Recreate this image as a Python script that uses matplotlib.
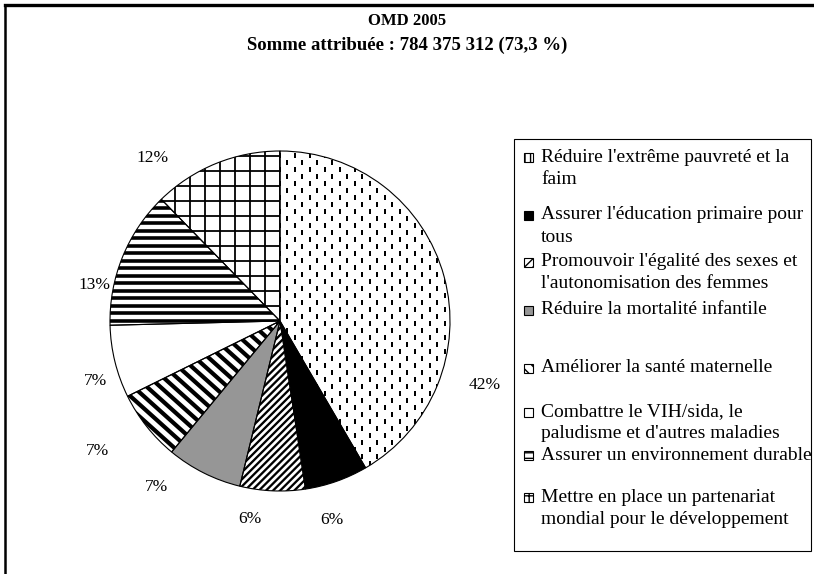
import matplotlib.pyplot as plt
import numpy as np
from matplotlib.collections import LineCollection
from matplotlib.lines import Line2D
from matplotlib.patches import Rectangle, Wedge

# OMD 2005 - share of the allocated amount per goal (percent)
goals = [
    "Réduire l'extrême pauvreté et la\nfaim",
    "Assurer l'éducation primaire pour\ntous",
    "Promouvoir l'égalité des sexes et\nl'autonomisation des femmes",
    "Réduire la mortalité infantile",
    "Améliorer la santé maternelle",
    "Combattre le VIH/sida, le\npaludisme et d'autres maladies",
    "Assurer un environnement durable",
    "Mettre en place un partenariat\nmondial pour le développement",
]
shares = [41.6, 6.0, 6.2, 7.2, 6.7, 6.9, 13.1, 12.3]

title = "OMD 2005"
subtitle = "Somme attribuée : 784 375 312 (73,3 %)"

plt.rcParams["font.family"] = ["Liberation Serif", "DejaVu Serif"]
plt.rcParams["hatch.linewidth"] = 1.0

W, H = 814, 574
PX = 1 / 170  # data units per pixel (pie radius = 170 px)


def stripes(angle, spacing, extent=1.5):
    a = np.radians(angle)
    d = np.array([np.cos(a), np.sin(a)])
    n = np.array([-np.sin(a), np.cos(a)])
    offs = np.arange(-extent, extent + spacing, spacing)
    return [[o * n - extent * d, o * n + extent * d] for o in offs]


def dashes(col, row, h, extent=1.5):
    segs = []
    for j, y in enumerate(np.arange(-extent, extent, row)):
        shift = col / 2 if j % 2 else 0
        for x in np.arange(-extent + shift, extent, col):
            segs.append([(x, y - h / 2), (x, y + h / 2)])
    return segs


# fill / pattern of every slice: (face colour, [(segments, linewidth px)])
patterns = [
    ("white", [(dashes(15 * PX, 7 * PX, 5 * PX), 2.0)]),
    ("black", []),
    ("white", [(stripes(45, 5 * PX), 2.3)]),
    ("#969696", []),
    ("white", [(stripes(-42, 9 * PX), 4.2)]),
    ("white", []),
    ("white", [(stripes(0, 7.5 * PX), 3.6)]),
    ("white", [(stripes(0, 15 * PX), 1.8), (stripes(90, 15 * PX), 1.8)]),
]
legend_hatch = ["|||", None, "////", None, "\\\\\\", None, "---", "++"]

# label placement: shift from slice middle (deg) and distance (radius units)
label_shift = [-32.5, -4.7, -6.1, -10, -2.8, 4.1, 11.1, 15.9]
label_dist = [1.26, 1.21, 1.18, 1.22, 1.32, 1.14, 1.11, 1.22]
legend_y = [157, 215, 262, 310, 368, 412, 455, 497]

fig = plt.figure(figsize=(W / 100, H / 100), dpi=100)
ax = fig.add_axes([70 / W, 43 / H, 420 / W, 420 / H])

wedges, _ = ax.pie(
    shares,
    startangle=90,
    counterclock=False,
    colors=[p[0] for p in patterns],
    wedgeprops=dict(linewidth=0),
)
ax.set_xlim(-210 * PX, 210 * PX)
ax.set_ylim(-210 * PX, 210 * PX)
ax.axis("off")

for w, (face, lines), pct, sh, dist in zip(
    wedges, patterns, shares, label_shift, label_dist
):
    for segs, lw in lines:
        lc = LineCollection(segs, colors="black", linewidths=lw * 0.72, zorder=2)
        ax.add_collection(lc)
        lc.set_clip_path(w)
    ax.add_patch(
        Wedge(w.center, w.r, w.theta1, w.theta2, fill=False,
              edgecolor="black", linewidth=0.8, zorder=3)
    )
    mid = np.radians((w.theta1 + w.theta2) / 2 + sh)
    ax.text(dist * np.cos(mid), dist * np.sin(mid), f"{round(pct)}%",
            ha="center", va="center", fontsize=12.5)

# title
fig.text(0.5, 1 - 21 / H, title, ha="center", va="center", fontsize=12,
         fontweight="bold")
fig.text(0.5, 1 - 45 / H, subtitle, ha="center", va="center", fontsize=13.5,
         fontweight="bold")

# outer frame (top and left edges visible)
fig.add_artist(Line2D([5 / W, 1], [1 - 5 / H] * 2, color="black", lw=2.4))
fig.add_artist(Line2D([5 / W] * 2, [0, 1 - 5 / H], color="black", lw=1.8))

# legend
fig.add_artist(Rectangle((514 / W, 1 - 551 / H), 297 / W, 412 / H,
                         transform=fig.transFigure, fill=False,
                         edgecolor="black", lw=0.8))
for (face, _), hatch, label, y in zip(patterns, legend_hatch, goals, legend_y):
    fig.add_artist(Rectangle((524 / W, 1 - (y + 4.5) / H), 9 / W, 9 / H,
                             transform=fig.transFigure, facecolor=face,
                             edgecolor="black", lw=0.8, hatch=hatch))
    for i, line in enumerate(label.split("\n")):
        fig.text(541 / W, 1 - (y + i * 22) / H, line, ha="left", va="center",
                 fontsize=14)

fig.savefig("out.png", dpi=100)
